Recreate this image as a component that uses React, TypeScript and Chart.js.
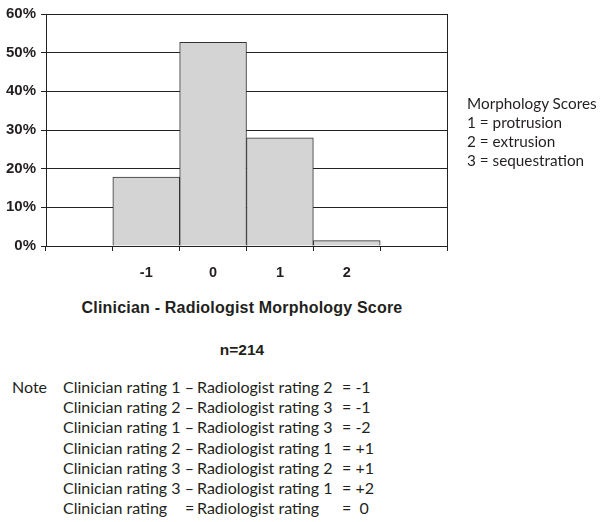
import React, { useEffect, useRef } from "react";
import { Chart, registerables } from "chart.js";

Chart.register(...registerables);

const categories = ["", "-1", "0", "1", "2", ""];
const percentValues = [null, 17.8, 52.7, 28.0, 1.4, null];
const yTicks = [0, 10, 20, 30, 40, 50, 60];

const legendTitle = "Morphology Scores";
const legendLines = ["1 = protrusion", "2 = extrusion", "3 = sequestration"];

const xTitle = "Clinician - Radiologist Morphology Score";
const nLabel = "n=214";

const noteLabel = "Note";
const noteLeft = [
  "Clinician rating 1 –",
  "Clinician rating 2 –",
  "Clinician rating 1 –",
  "Clinician rating 2 –",
  "Clinician rating 3 –",
  "Clinician rating 3 –",
  "Clinician rating",
];
const noteMid = [
  "Radiologist rating 2",
  "Radiologist rating 3",
  "Radiologist rating 3",
  "Radiologist rating 1",
  "Radiologist rating 2",
  "Radiologist rating 1",
  "Radiologist rating",
];
const noteRight = ["= -1", "= -1", "= -2", "= +1", "= +1", "= +2", "=  0"];

const INK = "#231f20";
const BOLD = "'Liberation Sans', Arial, sans-serif";
const REG = "Lato, 'Open Sans', sans-serif";

const rightBorder = {
  id: "rightBorder",
  afterDraw(chart: any) {
    const { ctx, chartArea } = chart;
    const x = Math.round(chartArea.right) + 0.5;
    ctx.save();
    ctx.strokeStyle = "#222";
    ctx.lineWidth = 1;
    ctx.beginPath();
    ctx.moveTo(x, chartArea.top);
    ctx.lineTo(x, chartArea.bottom + 5);
    ctx.stroke();
    ctx.restore();
  },
};

export default function App() {
  const ref = useRef<HTMLCanvasElement>(null);

  useEffect(() => {
    const canvas = ref.current;
    if (!canvas) return;
    const chart = new Chart(canvas, {
      type: "bar",
      data: {
        labels: categories,
        datasets: [
          {
            data: percentValues as any,
            backgroundColor: "#d4d4d4",
            borderColor: "#333333",
            borderWidth: 1,
            barPercentage: 1,
            categoryPercentage: 1,
          },
        ],
      },
      options: {
        responsive: false,
        animation: false,
        layout: { padding: { top: 12, right: 153, left: 0, bottom: 0 } },
        plugins: { legend: { display: false }, tooltip: { enabled: false } },
        scales: {
          x: {
            offset: true,
            grid: {
              offset: true,
              drawOnChartArea: false,
              tickColor: "#222",
              tickLength: 5,
              lineWidth: 1,
            },
            border: { display: true, color: "#222", width: 1 },
            ticks: {
              color: INK,
              font: { family: BOLD, size: 14.5, weight: "bold" },
              padding: 13,
              maxRotation: 0,
            },
            afterFit: (s: any) => {
              s.height = 44;
            },
          },
          y: {
            min: 0,
            max: 60,
            afterBuildTicks: (s: any) => {
              s.ticks = yTicks.map((v) => ({ value: v }));
            },
            grid: { color: "#222", tickColor: "#222", tickLength: 5, lineWidth: 1 },
            border: { display: true, color: "#222", width: 1 },
            ticks: {
              color: INK,
              font: { family: BOLD, size: 15, weight: "bold" },
              padding: 5,
              callback: (v: any) => v + "%",
            },
            afterFit: (s: any) => {
              s.width = 46;
            },
          },
        },
      },
      plugins: [rightBorder],
    });
    return () => chart.destroy();
  }, []);

  const regText: React.CSSProperties = {
    position: "absolute",
    fontFamily: REG,
    fontSize: 16,
    color: INK,
    whiteSpace: "pre",
    lineHeight: "20px",
  };

  const boldText: React.CSSProperties = {
    position: "absolute",
    left: 0,
    width: 484,
    textAlign: "center",
    fontFamily: BOLD,
    fontWeight: "bold",
    fontSize: 16,
    color: INK,
    lineHeight: "20px",
  };

  return (
    <div style={{ position: "absolute", left: 0, top: 0, width: 600, height: 522, background: "#fff", overflow: "hidden" }}>
      <canvas ref={ref} width={600} height={290} style={{ position: "absolute", left: 0, top: 0 }} />
      <div style={{ ...regText, fontSize: 15.3, left: 467, top: 94, lineHeight: "19px" }}>
        <div>{legendTitle}</div>
        {legendLines.map((l, i) => (
          <div key={i}>{l}</div>
        ))}
      </div>
      <div style={{ ...boldText, top: 298, letterSpacing: 0.2 }}>{xTitle}</div>
      <div style={{ ...boldText, top: 340, fontSize: 15.5 }}>{nLabel}</div>
      <div style={{ ...regText, left: 12, top: 377 }}>{noteLabel}</div>
      {noteLeft.map((t, i) => (
        <React.Fragment key={i}>
          <div style={{ ...regText, left: 63, top: 377 + i * 20.2 }}>{t}</div>
          <div style={{ ...regText, left: 197, top: 377 + i * 20.2 }}>{noteMid[i]}</div>
          <div style={{ ...regText, left: 342, top: 377 + i * 20.2 }}>{noteRight[i]}</div>
        </React.Fragment>
      ))}
      <div style={{ ...regText, left: 185, top: 377 + 6 * 20.2 }}>=</div>
    </div>
  );
}
